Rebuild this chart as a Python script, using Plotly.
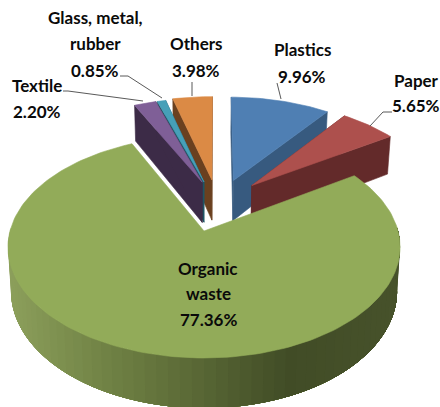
import math
import plotly.graph_objects as go

# Waste composition, clockwise from the top of the pie
categories = ["Plastics", "Paper", "Organic waste", "Textile", "Glass, metal, rubber", "Others"]
shares = [9.96, 5.65, 77.36, 2.20, 0.85, 3.98]

top_colors = ["#4F7FB3", "#AD504D", "#92AB59", "#7F5F97", "#46A0B8", "#DB8A45"]
side_colors = ["#375A7F", "#632A2A", None, "#3C2B47", "#1F5564", "#6A401F"]

# Slice displacement on the pie plane, in radii
explode_x = [0.162, 0.262, 0.0, -0.01, 0.0, 0.044]
explode_y = [0.497, 0.445, 0.0, 0.48, 0.482, 0.503]

# Label text: one row per line, final row is the percentage
label_lines = [["Plastics"], ["Paper"], ["Organic", "waste"], ["Textile"], ["Glass, metal,", "rubber"], ["Others"]]
label_x = [302, 416, 208, 37, 95, 196]
label_y = [49, 80, 268, 85, 17, 43]
label_gap = [27, 25, 25.5, 26, 26.5, 27]

# Leader lines (slice label to slice edge)
leaders = {
    "Plastics": ([277, 281], [83, 99]),
    "Paper": ([392, 383, 370], [112, 112, 126]),
    "Textile": ([63, 68, 143], [91, 91, 101]),
    "Glass, metal, rubber": ([120, 128, 162], [76, 76, 98]),
    "Others": ([192, 192], [82, 96]),
}

START_ANGLE = 0.5
X0, Y0 = 204.0, 231.0      # pie centre on the page
RX, RY = 194.0, 108.7      # horizontal and vertical plane scale
PERSP = 0.144              # foreshortening towards the back
DEPTH = 43.0               # extrusion height
BASE_SHRINK = 0.985        # lower rim sits slightly further from the viewer


def project(px, py, lower=False):
    w = 1.0 / (1.0 + PERSP * py)
    sx = RX * px * w
    sy = Y0 - RY * py * w
    if lower:
        return X0 + sx * BASE_SHRINK, sy + DEPTH * w
    return X0 + sx, sy


def rim(dx, dy, angle_deg, lower=False):
    a = math.radians(angle_deg)
    return project(dx + math.sin(a), dy + math.cos(a), lower)


def lerp_hex(c1, c2, f):
    a = [int(c1[i:i + 2], 16) for i in (1, 3, 5)]
    b = [int(c2[i:i + 2], 16) for i in (1, 3, 5)]
    return "#" + "".join(f"{round(p + (q - p) * f):02X}" for p, q in zip(a, b))


def rim_shade(x):
    stops = [(9, "#8C9F5B"), (110, "#6F8144"), (290, "#414C26"), (400, "#47522B")]
    for (x1, c1), (x2, c2) in zip(stops, stops[1:]):
        if x <= x2:
            return lerp_hex(c1, c2, max(0.0, (x - x1) / (x2 - x1)))
    return stops[-1][1]


def polygon(points, color, edge=0.6):
    xs, ys = zip(*points)
    return go.Scatter(
        x=list(xs) + [xs[0]], y=list(ys) + [ys[0]], mode="lines", fill="toself",
        fillcolor=color, line=dict(color=color, width=edge), hoverinfo="skip", showlegend=False,
    )


# Angular span of every slice
spans = []
angle = START_ANGLE
for value in shares:
    sweep = value * 3.6
    spans.append((angle, angle + sweep))
    angle += sweep

fig = go.Figure()


def add_slice(i):
    dx, dy = explode_x[i], explode_y[i]
    a0, a1 = spans[i]
    steps = max(8, int((a1 - a0) / 1.5))
    arc = [rim(dx, dy, a0 + (a1 - a0) * k / steps) for k in range(steps + 1)]
    apex = project(dx, dy)
    apex_low = project(dx, dy, True)
    if side_colors[i] is None:
        # Front wall of the large slice: strips run left to right, each one
        # overlapping the next so no seams show through
        n = 60
        for k in range(n):
            t0 = 272 - 184 * k / n
            t1 = 88
            sweep_end = t0 - 184 / n
            strip_top = [rim(dx, dy, t0 - (t0 - t1) * j / 40) for j in range(41)]
            strip_low = [rim(dx, dy, t1 + (t0 - t1) * j / 40, True) for j in range(41)]
            mid = rim(dx, dy, (t0 + sweep_end) / 2)
            fig.add_trace(polygon(strip_top + strip_low, rim_shade(mid[0]), edge=0))
    else:
        # Cut faces of the pulled-out slices
        for edge in (a0, a1):
            fig.add_trace(polygon([apex, rim(dx, dy, edge), rim(dx, dy, edge, True), apex_low], side_colors[i]))
    fig.add_trace(polygon([apex] + arc, top_colors[i]))


# Back slices first so nearer ones overlap them
for i in [0, 1, 5, 4, 3, 2]:
    add_slice(i)

for xs, ys in leaders.values():
    fig.add_trace(go.Scatter(x=xs, y=ys, mode="lines", line=dict(color="#595959", width=1),
                             hoverinfo="skip", showlegend=False))

for i, lines in enumerate(label_lines):
    rows = lines + [f"{shares[i]:.2f}%"]
    for r, row in enumerate(rows):
        fig.add_annotation(
            x=label_x[i], y=label_y[i] + r * label_gap[i], text=row, showarrow=False,
            xanchor="center", yanchor="middle",
            font=dict(family="Lato", size=17, color="#0A0A0A", weight="bold"),
        )

fig.update_layout(
    width=440, height=407, margin=dict(l=0, r=0, t=0, b=0),
    paper_bgcolor="white", plot_bgcolor="white", showlegend=False,
    xaxis=dict(range=[0, 440], visible=False, fixedrange=True),
    yaxis=dict(range=[407, 0], visible=False, fixedrange=True),
)
fig.write_html("out.html", config={"displayModeBar": False})
